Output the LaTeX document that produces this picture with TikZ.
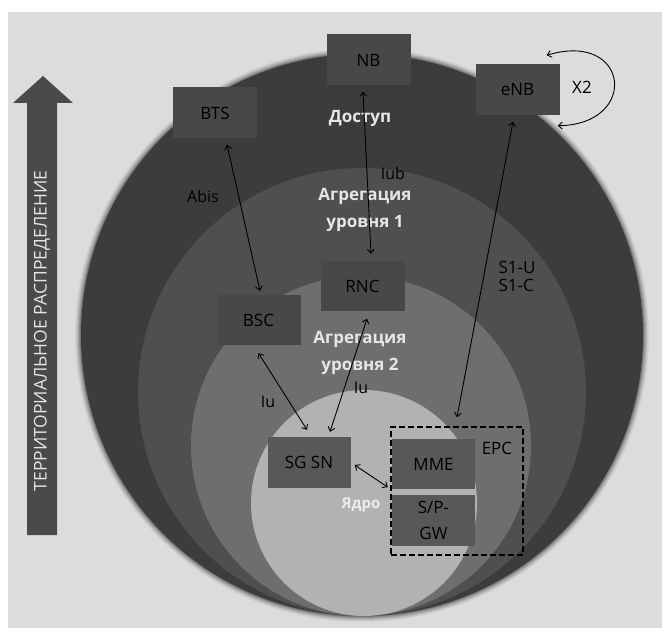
\documentclass[tikz,border=0pt]{standalone}
\usepackage{fontspec}
\setmainfont{Open Sans}
\usetikzlibrary{arrows.meta}
\definecolor{bg}{HTML}{DCDCDC}
\definecolor{ringA}{HTML}{3C3C3C}
\definecolor{ringB}{HTML}{4F4F4F}
\definecolor{ringC}{HTML}{6E6E6E}
\definecolor{ringD}{HTML}{B2B2B2}
\definecolor{boxA}{HTML}{484848}
\definecolor{boxB}{HTML}{585858}
\definecolor{txtdark}{HTML}{000000}
\definecolor{txtlight}{HTML}{E6E6E6}
\definecolor{bigarrow}{HTML}{4A4A4A}
\tikzset{
  netbox/.style={draw=none, fill=boxA, minimum width=84pt, minimum height=51pt, inner sep=0pt,
    text=txtdark, font=\fontsize{17}{20}\selectfont},
  corebox/.style={netbox, fill=boxB, minimum width=83pt},
  darklbl/.style={text=txtdark, inner sep=0pt, font=\fontsize{16}{18}\selectfont},
  lightlbl/.style={text=txtlight, inner sep=0pt, align=center, font=\fontsize{17}{27}\selectfont\bfseries},
  link/.style={{Straight Barb[length=4pt,width=7pt]}-{Straight Barb[length=4pt,width=7pt]}, line width=0.9pt, draw=txtdark},
  epcframe/.style={draw=txtdark, dash pattern=on 6pt off 3pt, line width=1.4pt, fill=none, minimum width=132pt, minimum height=128pt, inner sep=0pt}
}
\begin{document}
\begin{tikzpicture}[x=1pt,y=-1pt]
\useasboundingbox (0,0) rectangle (662,628);
\fill[white] (0,0) rectangle (662,628);
\fill[bg] (8,12) rectangle (662,628);

% left territorial arrow
\fill[bigarrow] (27,535) -- (27,103) -- (13,103) -- (43,76) -- (73,103) -- (57,103) -- (57,535) -- cycle;
\node[rotate=90, text=txtlight, inner sep=0pt, font=\fontsize{17.5}{20}\selectfont] (terr) at (42,331) {ТЕРРИТОРИАЛЬНОЕ РАСПРЕДЕЛЕНИЕ};

% circles (soft edge, then rings)
\foreach \r/\o in {287/0.06, 286/0.08, 285/0.10, 284/0.14, 283/0.2, 282/0.3}{
  \fill[ringA, opacity=\o] (362,335) circle[radius=\r pt];
}
\fill[ringA] (362,335) circle[radius=281pt];
\fill[ringB] (362,392) circle[radius=224pt];
\fill[ringC] (361,446) circle[radius=170pt];
\fill[ringD] (364,503) circle[radius=113pt];

% boxes
\node[netbox] (bts) at (215,113) {\color{txtdark}BTS};
\node[netbox] (nb) at (368.5,60) {\color{txtdark}NB};
\node[netbox] (enb) at (517.5,90) {\color{txtdark}eNB};
\node[netbox, minimum height=50pt] (rnc) at (362.5,286.5) {\color{txtdark}RNC};
\node[netbox, minimum height=50pt] (bsc) at (258.5,320) {\color{txtdark}BSC};
\node[corebox] (sgsn) at (309,462.5) {\color{txtdark}SG SN};
\node[corebox, minimum height=50pt] (mme) at (433.5,464) {\color{txtdark}MME};
\node[corebox, align=center, font=\fontsize{17}{26}\selectfont] (spgw) at (433.5,520.5) {\color{txtdark}S/P-\\\color{txtdark}GW};
\node[epcframe] (epc) at (457,491) {};
\node[darklbl, font=\fontsize{17}{20}\selectfont] (epclbl) at (497,448) {EPC};

% zone labels
\node[lightlbl] (dostup) at (360,118) {Доступ};
\node[lightlbl] (agg1) at (365,210) {Агрегация\\уровня 1};
\node[lightlbl] (agg2) at (360,353) {Агрегация\\уровня 2};
\node[lightlbl, text=white!92!black, font=\fontsize{15}{18}\selectfont\bfseries] (core) at (361,505) {Ядро};

% interface labels
\node[darklbl] (abis) at (203,197) {\color{txtdark}Abis};
\node[darklbl] (iub) at (393,174) {\color{txtdark}Iub};
\node[darklbl] (iu1) at (268,402) {Iu};
\node[darklbl] (iu2) at (361,388) {Iu};
\node[darklbl, align=left, font=\fontsize{17}{18}\selectfont] (s1) at (517,276) {\color{txtdark}S1-U\\\color{txtdark}S1-C};
\node[darklbl, font=\fontsize{17}{20}\selectfont] (x2) at (582,87) {X2};

% connectors
\draw[link] ([xshift=12pt,yshift=-6pt]bts.south) -- ([xshift=1.5pt,yshift=4pt]bsc.north);
\draw[link] ([xshift=-5.5pt,yshift=-6pt]nb.south) -- ([xshift=8.5pt,yshift=7.5pt]rnc.north);
\draw[link] ([xshift=-4.5pt,yshift=-6pt]enb.south) -- ([yshift=9pt]epc.north);
\draw[link] ([yshift=-8pt]bsc.south) -- ([xshift=-2pt,yshift=7pt]sgsn.north);
\draw[link] ([xshift=4.5pt,yshift=-7pt]rnc.south) -- ([xshift=21pt,yshift=5pt]sgsn.north);
\draw[link] ([xshift=4pt,yshift=-2.5pt]sgsn.east) -- ([xshift=-4pt,yshift=2pt]mme.south west);
\draw[link] ([xshift=-2pt,yshift=-10pt]enb.south east) .. controls +(82,-1) and +(83,-25) .. ([xshift=-13pt,yshift=9pt]enb.north east);
\end{tikzpicture}
\end{document}
